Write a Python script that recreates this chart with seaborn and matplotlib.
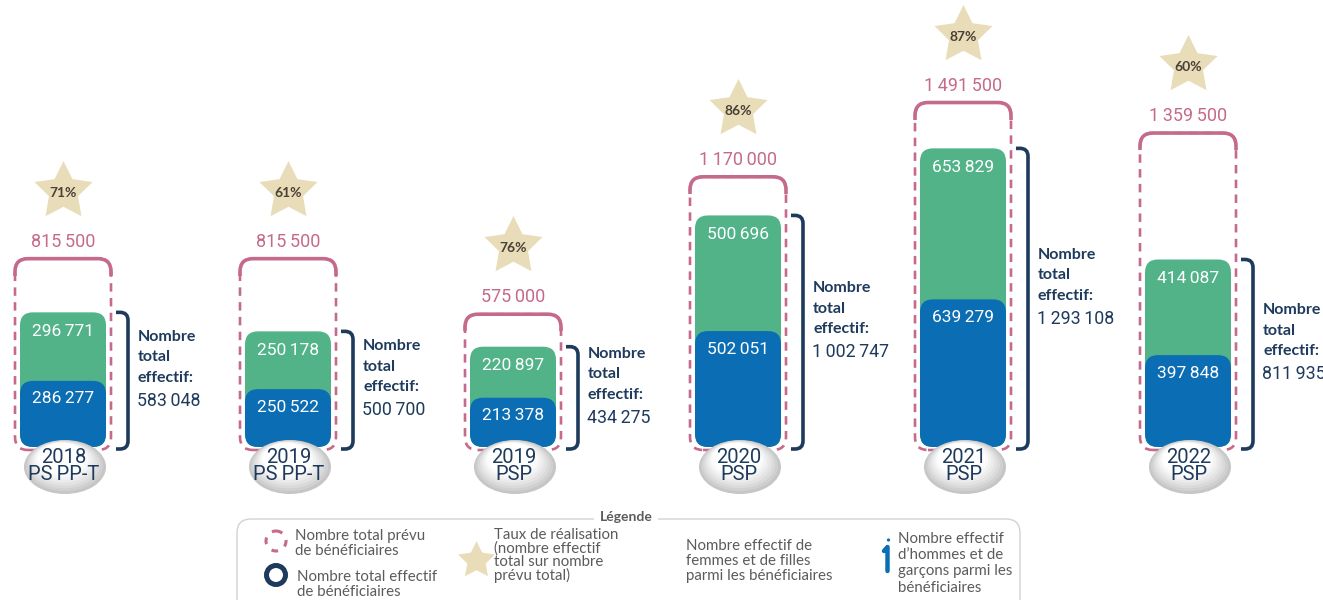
import numpy as np
import pandas as pd
import matplotlib
matplotlib.use("Agg")
import matplotlib.pyplot as plt
import seaborn as sns
from matplotlib.patches import FancyBboxPatch, Ellipse, Circle, Rectangle
from matplotlib.path import Path

# ---- data -------------------------------------------------------------
programmes = ["2018\nPS PP-T", "2019\nPS PP-T", "2019\nPSP", "2020\nPSP", "2021\nPSP", "2022\nPSP"]
planned = [815500, 815500, 575000, 1170000, 1491500, 1359500]
women = [296771, 250178, 220897, 500696, 653829, 414087]
men = [286277, 250522, 213378, 502051, 639279, 397848]
totals = [583048, 500700, 434275, 1002747, 1293108, 811935]
rates = ["71%", "61%", "76%", "86%", "87%", "60%"]

# ---- style ------------------------------------------------------------
sns.set_theme(style="white")
plt.rcParams["font.family"] = ["Lato", "DejaVu Sans"]
NUM_FONT = ["Roboto", "DejaVu Sans"]
SEP = "\u2009"   # thin space as thousands separator

GREEN = "#52B389"
BLUE = "#0B6DB3"
NAVY = "#1E3A5C"
PINK = "#C56A8C"
STAR = "#E9DDB9"
STAR_TXT = "#4A4036"
GREY_TXT = "#5B5B5B"

W, H = 1323, 600
STEP = 225.0      # pixels between programme centres
K = 4330.0        # beneficiaries per pixel
BASE = 447        # baseline, pixels from top
FIRST = 63        # first centre, pixels from left


def dx(px):
    return px / STEP


def dy(px):
    return px * K


def fmt(v):
    return f"{v:,}".replace(",", SEP)


fig = plt.figure(figsize=(W / 100, H / 100), dpi=100)
fig.patch.set_facecolor("white")
ax = fig.add_axes([0, 0, 1, 1])

df = pd.DataFrame({"programme": programmes, "women": women, "men": men,
                   "total": totals, "planned": planned})

BAR_W = dx(86)
sns.barplot(data=df, x="programme", y="total", color=GREEN, width=BAR_W,
            saturation=1, ax=ax, zorder=3)
sns.barplot(data=df, x="programme", y="men", color=BLUE, width=BAR_W,
            saturation=1, ax=ax, zorder=4)

ax.set_xlim(-dx(FIRST), dx(W - FIRST))
ax.set_ylim(-dy(H - BASE), dy(BASE))
ax.axis("off")

ASPECT = K * STEP

# swap the square bars for rounded ones
for rect in list(ax.patches):
    x, y = rect.get_x(), rect.get_y()
    w, h = rect.get_width(), rect.get_height()
    fc = rect.get_facecolor()
    z = rect.get_zorder()
    rect.remove()
    ax.add_patch(FancyBboxPatch((x, y), w, h,
                                boxstyle=f"round,pad=0,rounding_size={dx(13)}",
                                mutation_aspect=ASPECT, fc=fc, ec="none", zorder=z))

star_path = Path.unit_regular_star(5, 0.5)
PW = dx(96)

for i, row in df.iterrows():
    # planned outline: dashed sides, solid rounded top
    outline = dict(boxstyle=f"round,pad=0,rounding_size={dx(13)}",
                   mutation_aspect=ASPECT, fc="none", ec=PINK)
    box = FancyBboxPatch((i - PW / 2, -dy(3)), PW, row.planned + dy(3),
                         lw=1.9, ls=(0, (3.2, 2.4)), zorder=2, **outline)
    ax.add_patch(box)
    top = FancyBboxPatch((i - PW / 2, -dy(3)), PW, row.planned + dy(3),
                         lw=2.6, zorder=2, **outline)
    ax.add_patch(top)
    top.set_clip_path(Rectangle((i - PW, row.planned - dy(17)), 2 * PW, dy(30),
                                transform=ax.transData))

    # planned value and achievement star
    ax.text(i, row.planned + dy(17), fmt(row.planned), ha="center", va="center",
            color=PINK, fontsize=13, family=NUM_FONT)
    ax.scatter([i], [row.planned + dy(68)], marker=star_path, s=44 ** 2,
               color=STAR, linewidths=0, zorder=5)
    ax.text(i, row.planned + dy(66), rates[i], ha="center", va="center",
            color=STAR_TXT, fontsize=10, fontweight="bold", zorder=6)

    # values inside the bars
    ax.text(i, row.total - dy(19), fmt(row.women), ha="center", va="center",
            color="white", zorder=7, fontsize=12.5, family=NUM_FONT)
    ax.text(i, row.men - dy(18), fmt(row.men), ha="center", va="center",
            color="white", zorder=7, fontsize=12.5, family=NUM_FONT)

    # bracket for the actual total
    br = FancyBboxPatch((i + dx(40), -dy(2)), dx(25), row.total + dy(2),
                        boxstyle=f"round,pad=0,rounding_size={dx(8)}",
                        mutation_aspect=ASPECT, fc="none", ec=NAVY, lw=2.6, zorder=3)
    ax.add_patch(br)
    br.set_clip_path(Rectangle((i + dx(53), -dy(20)), dx(40), row.total + dy(40),
                               transform=ax.transData))

    top_txt = row.total / 2 + dy(50)
    ax.text(i + dx(75), top_txt, "Nombre\ntotal\neffectif:", ha="left", va="top",
            color=NAVY, fontsize=11.5, fontweight="bold", linespacing=1.6)
    ax.text(i + dx(74), top_txt - dy(71), fmt(row.total), ha="left", va="center",
            color=NAVY, fontsize=12.8, family=NUM_FONT)

    # programme badge with a soft grey shading
    cx, cy = i + dx(2), -dy(20)
    shades = ["#C6C6C6", "#D0D0D0", "#DADADA", "#E3E3E3", "#EBEBEB", "#F3F3F3", "#FAFAFA", "#FFFFFF"]
    for k, col in enumerate(shades):
        s = 1 - 0.06 * k
        ax.add_patch(Ellipse((cx - dx(0.5) * k, cy + dy(1.2) * k), dx(82) * s, dy(54) * s,
                             fc=col, ec="none", zorder=8))
    ax.text(i + dx(1), cy + dy(1), row.programme.replace(" ", SEP), ha="center", va="center",
            color=NAVY, linespacing=0.85, zorder=9, fontsize=14.5, family=NUM_FONT)

# ---- legend panel (pixel coordinates) ---------------------------------
lg = fig.add_axes([0, 0, 1, 1])
lg.set_xlim(0, W)
lg.set_ylim(H, 0)
lg.axis("off")
lg.patch.set_visible(False)

lg.add_patch(FancyBboxPatch((237, 519), 783, 110, boxstyle="round,pad=0,rounding_size=14",
                            fc="none", ec="#D2D2D2", lw=1.0))
lg.text(626, 517, "Légende", ha="center", va="center", color=GREY_TXT, fontsize=10,
        fontweight="bold", bbox=dict(fc="white", ec="none", pad=4))

lg.add_patch(Circle((276, 541), 10, fc="none", ec=PINK, lw=2.2, ls=(0, (2.2, 2.6))))
lg.add_patch(Circle((276, 575), 9.5, fc="none", ec=NAVY, lw=3.6))
lg.scatter([476], [560], marker=star_path, s=28 ** 2, color=STAR, linewidths=0)

# person glyph
lg.plot([884, 887.5, 887.5], [551, 547, 571], color=BLUE, lw=3.2, solid_capstyle="round")
lg.add_patch(Circle((888.5, 540), 1.6, fc=BLUE, ec="none"))

items = [
    (295, 529, "Nombre total prévu\nde bénéficiaires", 1.12),
    (297, 570, "Nombre total effectif\nde bénéficiaires", 1.08),
    (494, 528, "Taux de réalisation\n(nombre effectif\ntotal sur nombre\nprévu total)", 0.92),
    (686, 539, "Nombre effectif de\nfemmes et de filles\nparmi les bénéficiaires", 1.1),
    (898, 532, "Nombre effectif\nd’hommes et de\ngarçons parmi les\nbénéficiaires", 1.2),
]
for x, y, txt, ls in items:
    lg.text(x, y, txt, ha="left", va="top", color=GREY_TXT, fontsize=10.8, linespacing=ls)

fig.savefig("out.png", dpi=100, facecolor="white")
